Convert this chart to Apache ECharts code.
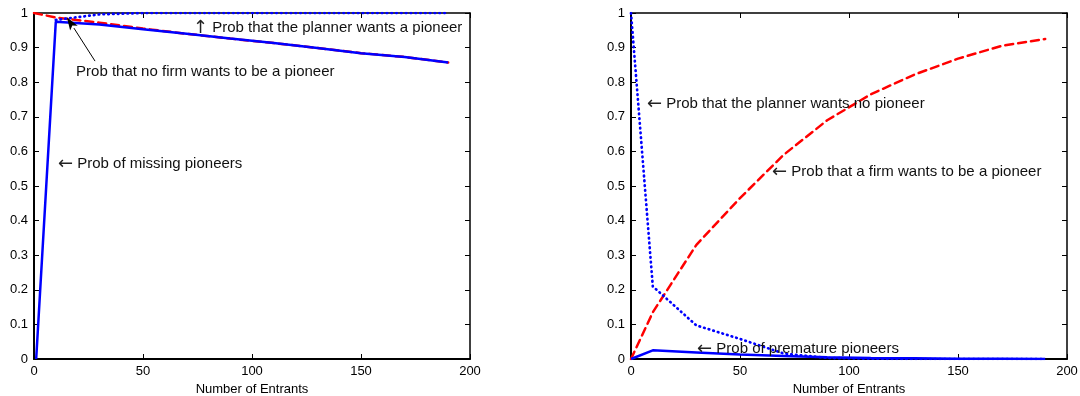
<!DOCTYPE html>
<html>
<head>
<meta charset="utf-8">
<script src="https://cdn.jsdelivr.net/npm/echarts@6/dist/echarts.min.js"></script>
<style>
  html, body { margin: 0; padding: 0; background: #fff; }
  #chart { width: 1080px; height: 396px; }
</style>
</head>
<body>
<div id="chart"></div>
<script>
// x positions (number of entrants)
var entrants = [0, 10, 30, 50, 70, 90, 110, 130, 150, 170, 190];

// left panel
var missingPioneers = [[1, 0], [10, 0.975], [30, 0.967], [50, 0.953], [70, 0.94], [90, 0.926], [110, 0.913], [130, 0.899], [150, 0.884], [170, 0.873], [190, 0.857]];
var noFirmPioneer = [1, 0.987, 0.972, 0.955, 0.94, 0.926, 0.913, 0.899, 0.884, 0.873, 0.857];
var plannerWantsPioneer = [null, 0.98, 0.996, 1, 1, 1, 1, 1, 1, 1, 1];

// right panel
var prematurePioneers = [0, 0.025, 0.019, 0.013, 0.009, 0.005, 0.003, 0.002, 0.001, 0.0005, 0];
var firmWantsPioneer = [0, 0.135, 0.33, 0.465, 0.59, 0.69, 0.765, 0.822, 0.868, 0.905, 0.925];
var plannerWantsNone = [1, 0.21, 0.097, 0.058, 0.016, 0.003, 0.001, 0, 0, 0, 0];

var xTicks = { min: 0, max: 200, interval: 50 };
var yTicks = { min: 0, max: 1, interval: 0.1 };

// annotations: [grid, x, y, arrow glyph, text] in data units (y = vertical centre)
var notes = [
  [0, 72.9, 0.957, '\u2191', 'Prob that the planner wants a pioneer'],
  [0, 19.3, 0.83, '', 'Prob that no firm wants to be a pioneer'],
  [0, 11, 0.564, '\u2190', 'Prob of missing pioneers'],
  [1, 7.3, 0.737, '\u2190', 'Prob that the planner wants no pioneer'],
  [1, 64.7, 0.54, '\u2190', 'Prob that a firm wants to be a pioneer'],
  [1, 30.3, 0.029, '\u2190', 'Prob of premature pioneers']
];
var arrowFrom = [28, 0.861], arrowTo = [15.1, 0.988];

var FONT = '"Liberation Sans", Arial, sans-serif';

function pair(ys) {
  var out = [];
  for (var i = 0; i < entrants.length; i++) {
    if (ys[i] !== null) out.push([entrants[i], ys[i]]);
  }
  return out;
}

function xAxes(g) {
  return [{
    type: 'value', gridIndex: g, position: 'bottom',
    min: xTicks.min, max: xTicks.max, interval: xTicks.interval,
    name: 'Number of Entrants', nameLocation: 'middle', nameGap: 24,
    nameTextStyle: { fontFamily: FONT, fontSize: 13, color: '#000' },
    axisLine: { onZero: false, lineStyle: { color: '#000', width: 2 } },
    axisTick: { inside: true, length: 5, lineStyle: { color: '#000' } },
    axisLabel: { fontFamily: FONT, fontSize: 13, color: '#000', margin: 6 },
    splitLine: { show: false }
  }, {
    type: 'value', gridIndex: g, position: 'top',
    min: xTicks.min, max: xTicks.max, interval: xTicks.interval,
    axisLine: { onZero: false, lineStyle: { color: '#000', width: 1.5 } },
    axisTick: { inside: true, length: 5, lineStyle: { color: '#000' } },
    axisLabel: { show: false },
    splitLine: { show: false }
  }];
}

function yAxes(g) {
  return [{
    type: 'value', gridIndex: g, position: 'left',
    min: yTicks.min, max: yTicks.max, interval: yTicks.interval,
    axisLine: { show: true, onZero: false, lineStyle: { color: '#000', width: 2 } },
    axisTick: { show: true, inside: true, length: 5, lineStyle: { color: '#000' } },
    axisLabel: { fontFamily: FONT, fontSize: 13, color: '#000', margin: 6 },
    splitLine: { show: false }
  }, {
    type: 'value', gridIndex: g, position: 'right',
    min: yTicks.min, max: yTicks.max, interval: yTicks.interval,
    axisLine: { show: true, onZero: false, lineStyle: { color: '#000', width: 1.5 } },
    axisTick: { show: true, inside: true, length: 5, lineStyle: { color: '#000' } },
    axisLabel: { show: false },
    splitLine: { show: false }
  }];
}

function line(xi, yi, data, color, type, z, width) {
  return {
    type: 'line', xAxisIndex: xi, yAxisIndex: yi, data: data,
    symbol: 'none', silent: true, animation: false, z: z,
    lineStyle: { color: color, width: width || 2.5, type: type, cap: type === 'solid' ? 'butt' : 'round' }
  };
}

var DOT = [0.6, 4.2], DASH = [8, 5];

var chart = echarts.init(document.getElementById('chart'));
chart.setOption({
  backgroundColor: '#fff',
  animation: false,
  grid: [
    { left: 34, top: 13, width: 436, height: 346, outerBoundsMode: 'none', containLabel: false },
    { left: 631, top: 13, width: 436, height: 346, outerBoundsMode: 'none', containLabel: false }
  ],
  xAxis: xAxes(0).concat(xAxes(1)),
  yAxis: yAxes(0).concat(yAxes(1)),
  series: [
    line(0, 0, pair(noFirmPioneer), '#ff0000', DASH, 2),
    line(0, 0, pair(plannerWantsPioneer), '#0000ff', DOT, 3, 2.7),
    line(0, 0, missingPioneers, '#0000ff', 'solid', 4),
    line(2, 2, pair(firmWantsPioneer), '#ff0000', DASH, 2),
    line(2, 2, pair(plannerWantsNone), '#0000ff', DOT, 3, 2.7),
    line(2, 2, pair(prematurePioneers), '#0000ff', 'solid', 4)
  ]
});

var graphics = notes.map(function (n) {
  var p = chart.convertToPixel({ gridIndex: n[0] }, [n[1], n[2]]);
  return {
    type: 'text', x: p[0], y: p[1], z: 10, silent: true,
    style: {
      text: (n[3] ? '{a|' + n[3] + '} ' : '') + n[4],
      fill: '#111', fontFamily: FONT, fontSize: 15,
      verticalAlign: 'middle', align: 'left',
      rich: { a: { fontFamily: '"DejaVu Sans"', fontSize: 18, fill: '#222' } }
    }
  };
});

// pointer arrow in the left panel
var a0 = chart.convertToPixel({ gridIndex: 0 }, arrowFrom);
var a1 = chart.convertToPixel({ gridIndex: 0 }, arrowTo);
var dx = a1[0] - a0[0], dy = a1[1] - a0[1], len = Math.sqrt(dx * dx + dy * dy);
var ux = dx / len, uy = dy / len, headL = 13, headW = 4.5;
var bx = a1[0] - ux * headL, by = a1[1] - uy * headL;
graphics.push({
  type: 'line', z: 10, silent: true,
  shape: { x1: a0[0], y1: a0[1], x2: bx, y2: by },
  style: { stroke: '#000', lineWidth: 1 }
});
graphics.push({
  type: 'polygon', z: 10, silent: true,
  shape: { points: [[a1[0], a1[1]], [bx - uy * headW, by + ux * headW], [bx + ux * 3, by + uy * 3], [bx + uy * headW, by - ux * headW]] },
  style: { fill: '#000' }
});
chart.setOption({ graphic: graphics });
</script>
</body>
</html>
